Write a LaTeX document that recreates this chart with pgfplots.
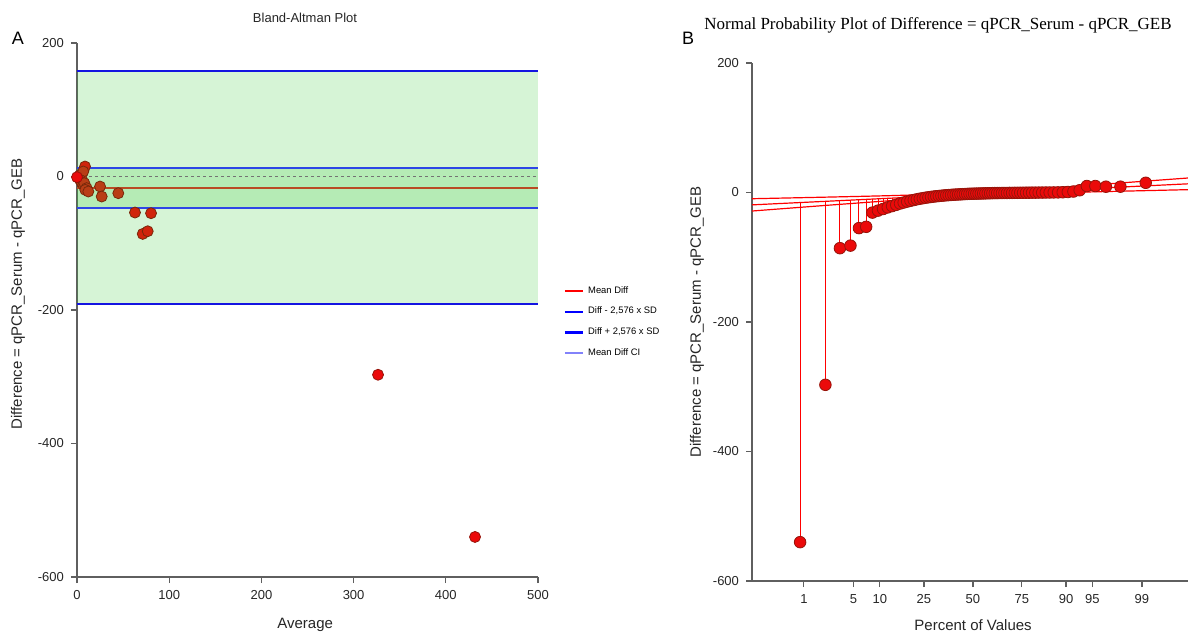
\documentclass[border=0pt]{standalone}
\usepackage{fontspec}
\setmainfont{Liberation Sans}
\newfontfamily\timesfont{Liberation Serif}
\usepackage{pgfplots}
\pgfplotsset{compat=1.18}

\definecolor{ptred}{RGB}{235,10,10}
\definecolor{ptedge}{RGB}{150,20,10}
\definecolor{ptbrown}{RGB}{185,62,22}
\definecolor{brownedge}{RGB}{120,40,10}
\definecolor{ptdark}{RGB}{208,36,12}
\definecolor{meanbrown}{RGB}{185,75,35}
\definecolor{bandgreen}{RGB}{50,200,50}
\definecolor{loablue}{RGB}{20,20,225}
\definecolor{ciblue}{RGB}{45,70,230}
\definecolor{legci}{RGB}{130,130,250}
\definecolor{axgray}{RGB}{95,95,95}

% normal probability plot: quantile z, difference d, stem up/down to fit line
\pgfplotstableread{
z d ep em
-2.378 -540 524.5 0
-2.030 -297 283.4 0
-1.830 -86 73.5 0
-1.685 -82 70.3 0
-1.568 -55 43.9 0
-1.469 -53 42.4 0
-1.383 -31 20.9 0
-1.306 -28 18.3 0
-1.236 -25.5 16.2 0
-1.172 -23 14 0
-1.112 -21 12.4 0
-1.056 -19 10.7 0
-1.003 -17 9 0
-0.953 -15.5 7.7 0
-0.905 -14 6.5 0
-0.859 -12.8 5.5 0
-0.814 -11.6 4.6 0
-0.772 -10.5 3.7 0
-0.731 -9.6 3 0
-0.690 -8.8 2.5 0
-0.651 -8.0 0 0
-0.613 -7.4 0 0
-0.576 -6.8 0 0
-0.539 -6.3 0 0
-0.504 -5.8 0 0
-0.469 -5.4 0 0
-0.434 -5.0 0 0
-0.400 -4.6 0 0
-0.367 -4.3 0 0
-0.334 -4.0 0 0
-0.301 -3.7 0 0
-0.268 -3.4 0 0
-0.236 -3.2 0 0
-0.204 -3.0 0 0
-0.172 -2.8 0 0
-0.141 -2.6 0 0
-0.109 -2.4 0 0
-0.078 -2.2 0 0
-0.047 -2.0 0 0
-0.016 -1.9 0 0
0.016 -1.8 0 0
0.047 -1.7 0 0
0.078 -1.6 0 0
0.109 -1.5 0 0
0.141 -1.4 0 0
0.172 -1.3 0 0
0.204 -1.2 0 0
0.236 -1.1 0 0
0.268 -1.0 0 0
0.301 -0.9 0 0
0.334 -0.9 0 0
0.367 -0.8 0 0
0.400 -0.8 0 0
0.434 -0.7 0 0
0.469 -0.7 0 0
0.504 -0.6 0 0
0.539 -0.6 0 0
0.576 -0.5 0 0
0.613 -0.5 0 0
0.651 -0.4 0 0
0.690 -0.4 0 0
0.731 -0.3 0 0
0.772 -0.3 0 0
0.814 -0.2 0 0
0.859 -0.2 0 0
0.905 -0.1 0 0
0.953 -0.1 0 0
1.003 0 0 0
1.056 0 0 0
1.112 0.1 0 0
1.172 0.2 0 0
1.236 0.4 0 0
1.306 0.8 0 0
1.383 1.5 0 0
1.469 3.5 0 0
1.568 10 0 4.1
1.685 10 0 3.5
1.830 9 0 1.7
2.030 9 0 0.6
2.378 15 0 4.7
}\normdata

\pgfplotsset{
  panel/.style={
    scale only axis,
    axis x line=bottom, axis y line=left,
    axis line style={-, axgray, line width=0.8pt},
    every outer x axis line/.append style={-},
    every outer y axis line/.append style={-},
    tick style={axgray, line width=0.6pt},
    major tick length=3pt,
    tick align=outside,
    ymin=-600, ymax=200, ytick={-600,-400,-200,0,200},
    /pgf/number format/assume math mode=true,
    tick label style={font=\fontsize{6.5}{7}\selectfont, text=black!85},
    label style={font=\fontsize{7.5}{8.5}\selectfont, text=black!85},
    clip=false,
  },
  ptmark/.style={only marks, mark=*, mark size=2.75pt,
    mark options={fill=ptred, draw=ptedge, line width=0.4pt}},
}

\begin{document}
\begin{tikzpicture}
\useasboundingbox (0,0) rectangle (594pt,317pt);

% ---------------- panel A: Bland-Altman ----------------
\begin{axis}[panel,
  at={(38.5pt,28.5pt)}, anchor=south west,
  width=230.5pt, height=267pt,
  xmin=0, xmax=500, xtick={0,100,...,500},
  xlabel={Average},
  ylabel={Difference = qPCR\_Serum - qPCR\_GEB},
  xlabel style={at={(axis description cs:0.495,-0.09)}, anchor=center},
  ylabel style={at={(axis description cs:-0.128,0.53)}, anchor=center},
  legend cell align=left,
  legend image code/.code={\draw[#1] (0pt,0pt) -- (9pt,0pt);},
  legend style={at={(axis description cs:1.042,0.56)}, anchor=north west,
    draw=none, fill=none, font=\fontsize{4.7}{5.5}\selectfont, row sep=1.4pt},
]
\addplot[draw=none, fill=bandgreen, fill opacity=0.2, forget plot]
  coordinates {(0,-191.5) (500,-191.5) (500,157.5) (0,157.5)} -- cycle;
\addplot[draw=none, fill=bandgreen, fill opacity=0.2, forget plot]
  coordinates {(0,-46.5) (500,-46.5) (500,12.5) (0,12.5)} -- cycle;
\addplot[meanbrown, line width=1pt, forget plot] coordinates {(0,-17) (500,-17)};
\addplot[black!55, line width=0.9pt, dash pattern=on 1.5pt off 1.5pt, forget plot]
  coordinates {(0,0) (500,0)};
\addplot[loablue, line width=1pt, forget plot] coordinates {(0,157.5) (500,157.5)};
\addplot[loablue, line width=1pt, forget plot] coordinates {(0,-191.5) (500,-191.5)};
\addplot[ciblue, line width=1pt, forget plot] coordinates {(0,12.5) (500,12.5)};
\addplot[ciblue, line width=1pt, forget plot] coordinates {(0,-46.6) (500,-46.6)};
% points in the limits band and in the outer band
\addplot[ptmark, mark options={fill=ptdark, draw=brownedge}, forget plot] coordinates {
  (8.7,15) (62.9,-54) (80.3,-55) (71.3,-86) (76.7,-82)
};
\addplot[ptmark, mark options={fill=ptbrown, draw=brownedge}, forget plot] coordinates {
  (3,2) (5,-3) (6.8,7.5) (3.3,-5) (5,-9) (6.8,-12.4)
  (8,-10) (10.5,-17.4) (9,-20) (12.3,-22.5) (25,-15) (26.8,-30) (44.8,-25)
};
% points outside the limits
\addplot[ptmark, forget plot] coordinates {(0,-1) (326.5,-297) (431.7,-540)};

\addlegendimage{red, line width=1.2pt}\addlegendentry{Mean Diff}
\addlegendimage{blue, line width=1.2pt}\addlegendentry{Diff - 2,576 x SD}
\addlegendimage{blue, line width=1.2pt}\addlegendentry{Diff + 2,576 x SD}
\addlegendimage{legci, line width=1.2pt}\addlegendentry{Mean Diff CI}
\end{axis}

% ---------------- panel B: normal probability plot ----------------
\begin{axis}[panel,
  at={(376pt,26.5pt)}, anchor=south west,
  width=218pt, height=259pt,
  xmin=-3.04, xmax=2.96,
  xtick={-2.326,-1.645,-1.282,-0.674,0,0.674,1.282,1.645,2.326},
  xticklabels={1,5,10,25,50,75,90,95,99},
  xlabel={Percent of Values},
  ylabel={Difference = qPCR\_Serum - qPCR\_GEB},
  xlabel style={at={(axis description cs:0.507,-0.085)}, anchor=center},
  ylabel style={at={(axis description cs:-0.126,0.50)}, anchor=center},
]
\addplot[red, line width=0.6pt] coordinates {(-3.04,-19.1) (2.96,13.4)};
\addplot[red, line width=0.6pt, smooth] coordinates {
  (-3.04,-9.6) (-2,-7.1) (-1,-4.4) (0,-0.4) (1,6.4) (2,14.5) (2.96,22.4)};
\addplot[red, line width=0.6pt, smooth] coordinates {
  (-3.04,-28.6) (-2,-19.7) (-1,-11.6) (0,-4.8) (1,-0.8) (2,1.9) (2.96,4.4)};
\addplot[ptmark, mark size=2.9pt, error bars/.cd, y dir=both, y explicit, error mark=none,
  error bar style={red, line width=0.5pt}]
  table[x=z, y=d, y error plus=ep, y error minus=em] {\normdata};
\end{axis}

% titles and panel letters
\node[font=\fontsize{6.5}{7}\selectfont, text=black!85] at (152.5pt,308pt) {Bland-Altman Plot};
\node[font=\timesfont\fontsize{8.5}{10}\selectfont] at (469pt,304.5pt)
  {Normal Probability Plot of Difference = qPCR\_Serum - qPCR\_GEB};
\node[font=\fontsize{9}{10}\selectfont] at (9pt,298pt) {A};
\node[font=\fontsize{9}{10}\selectfont] at (344pt,298pt) {B};
\end{tikzpicture}
\end{document}
